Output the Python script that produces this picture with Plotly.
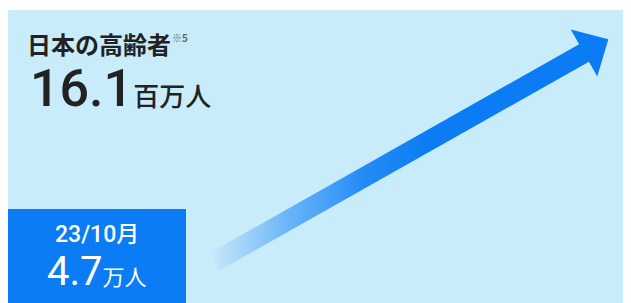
import numpy as np
import plotly.graph_objects as go

# ---- data ----
titles = ["日本の高齢者", "23/10月"]
values = ["16.1", "4.7"]
units = ["百万人", "万人"]
note = "※5"

W, H = 631, 303
OFF = 8  # page body margin compensation
BLUE = "#0b7cf4"
PANEL = "#c9ecfb"

fig = go.Figure()

# arrow (decorative) with gradient fill
T = np.array([214.0, 262.0])
B = np.array([584.0, 53.0])
d = (B - T) / np.linalg.norm(B - T)
n = np.array([-d[1], d[0]])
if n[1] < 0:
    n = -n
hw, hh, hl = 10.0, 27.0, 28.0
pts = [T - hw * n, B - hw * n, B - hh * n, B + hl * d, B + hh * n, B + hw * n, T + hw * n, T - hw * n]
xs = [p[0] for p in pts]
ys = [p[1] for p in pts]
fig.add_trace(go.Scatter(
    x=xs, y=ys, mode="lines", fill="toself", line=dict(width=0),
    fillgradient=dict(type="horizontal", colorscale=[
        [0.0, "rgba(40,140,246,0)"],
        [0.06, "rgba(60,150,246,0.2)"],
        [0.2, "rgba(40,142,246,0.6)"],
        [0.38, "rgba(20,130,245,0.9)"],
        [0.55, "rgba(11,124,244,1)"],
        [1.0, "rgba(11,124,244,1)"]]),
    hoverinfo="skip", showlegend=False))

shapes = [
    dict(type="rect", xref="x", yref="y", x0=8, x1=W + 20, y0=10, y1=H + 20,
         fillcolor=PANEL, line=dict(width=0), layer="below"),
    dict(type="rect", xref="x", yref="y", x0=8, x1=186, y0=209, y1=H + 20,
         fillcolor=BLUE, line=dict(width=0), layer="below"),
]

FONT = "Roboto, 'Noto Sans CJK JP', sans-serif"
CJK = "'Noto Sans CJK JP', sans-serif"
ann = [
    dict(x=25, y=43, text=f"<b>{titles[0]}</b>", xanchor="left", yanchor="middle",
         font=dict(size=24, color="#222222", family=CJK), showarrow=False),
    dict(x=170, y=37, text=f"<b>{note}</b>", xanchor="left", yanchor="middle",
         font=dict(size=10, color="#666666", family=CJK), showarrow=False),
    dict(x=28, y=121, text=f"{values[0]}<span style='font-size:26px;font-family:Noto Sans CJK JP'>{units[0]}</span>",
         xanchor="left", yanchor="bottom",
         font=dict(size=52, color="#222222", family=FONT, weight=500), showarrow=False),
    dict(x=97, y=234, text=titles[1], xanchor="center", yanchor="middle",
         font=dict(size=23, color="white", family=FONT, weight=500), showarrow=False),
    dict(x=97, y=297, text=f"{values[1]}<span style='font-size:22px;font-family:Noto Sans CJK JP'>{units[1]}</span>",
         xanchor="center", yanchor="bottom",
         font=dict(size=40, color="white", family=FONT), showarrow=False),
]

fig.update_layout(
    width=W, height=H, margin=dict(l=0, r=0, t=0, b=0),
    paper_bgcolor="white", plot_bgcolor="white",
    xaxis=dict(range=[OFF, W + OFF], visible=False, fixedrange=True),
    yaxis=dict(range=[H + OFF, OFF], visible=False, fixedrange=True),
    shapes=shapes, annotations=ann, showlegend=False,
)
fig.write_html("out.html")
